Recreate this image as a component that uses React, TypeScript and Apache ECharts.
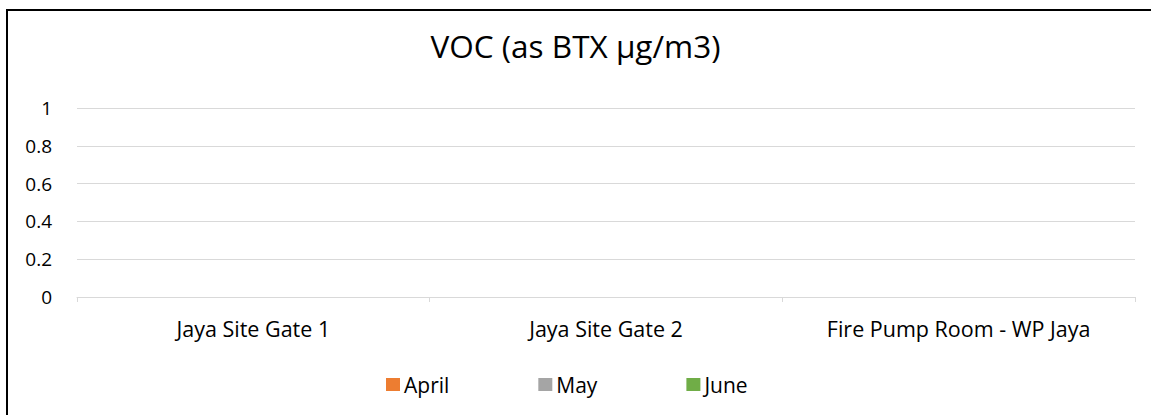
import React, { useEffect, useRef } from "react";
import * as echarts from "echarts";

const categories = ["Jaya Site Gate 1", "Jaya Site Gate 2", "Fire Pump Room - WP Jaya"];
const seriesNames = ["April", "May", "June"];
const april: (number | null)[] = [null, null, null];
const may: (number | null)[] = [null, null, null];
const june: (number | null)[] = [null, null, null];
const colors = ["#ED7D31", "#A5A5A5", "#70AD47"];

const FONT = "'Open Sans', 'Noto Sans', sans-serif";

export default function App() {
  const ref = useRef<HTMLDivElement>(null);
  useEffect(() => {
    if (!ref.current) return;
    const chart = echarts.init(ref.current, undefined, { renderer: "svg" });
    const data = [april, may, june];
    chart.setOption({
      animation: false,
      backgroundColor: "#ffffff",
      textStyle: { fontFamily: FONT },
      title: {
        text: "VOC (as BTX µg/m3)",
        left: "center",
        top: 24,
        textStyle: { fontFamily: FONT, fontSize: 31.5, fontWeight: "normal", color: "#000000" },
      },
      legend: {
        data: seriesNames,
        top: 369,
        left: 381,
        itemWidth: 14,
        itemHeight: 13,
        itemGap: 89,
        icon: "rect",
        textStyle: { fontFamily: FONT, fontSize: 21, color: "#000000", padding: [0, 0, 0, -1] },
      },
      graphic: [
        {
          type: "rect",
          shape: { x: 7, y: 10, width: 1170, height: 430 },
          style: { fill: "none", stroke: "#000000", lineWidth: 2 },
          silent: true,
        },
      ],
      grid: { left: 77, right: 16, top: 108, bottom: 118, containLabel: false },
      xAxis: {
        type: "category",
        data: categories,
        axisLine: { show: true, lineStyle: { color: "#D9D9D9", width: 1 } },
        axisTick: { show: true, length: 5, lineStyle: { color: "#D9D9D9" } },
        axisLabel: { fontFamily: FONT, fontSize: 21.5, color: "#000000", margin: 20 },
      },
      yAxis: {
        type: "value",
        min: 0,
        max: 1,
        interval: 0.2,
        axisLine: { show: false },
        axisTick: { show: false },
        splitLine: { lineStyle: { color: "#D9D9D9", width: 1 } },
        axisLabel: { fontFamily: FONT, fontSize: 19, color: "#000000", margin: 25 },
      },
      series: seriesNames.map((name, i) => ({
        name,
        type: "bar",
        data: data[i],
        itemStyle: { color: colors[i] },
      })),
    });
    return () => chart.dispose();
  }, []);
  return (
    <div
      ref={ref}
      style={{ position: "fixed", left: 0, top: 0, width: 1151, height: 415 }}
    />
  );
}
